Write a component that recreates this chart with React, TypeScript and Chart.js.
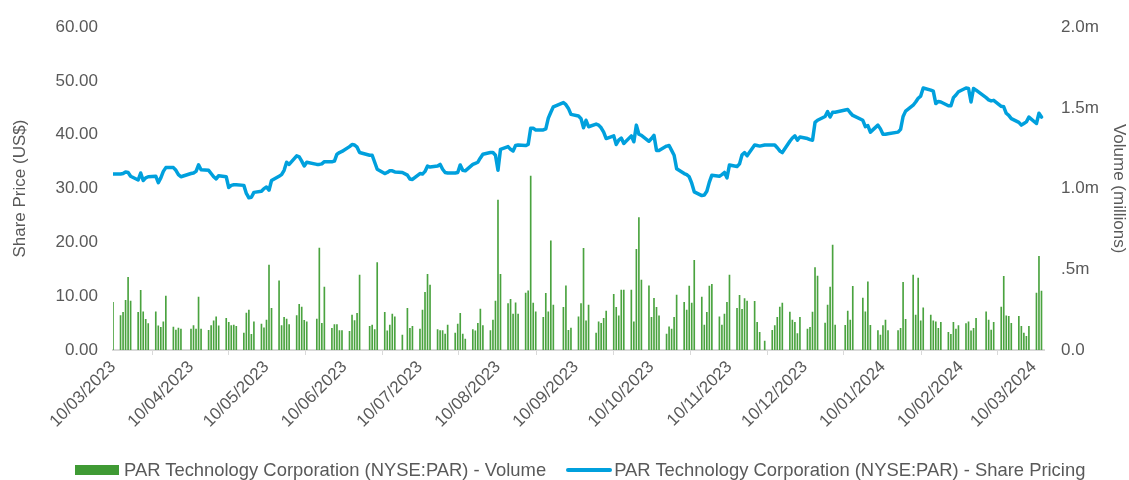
import React, { useEffect, useRef } from 'react';
import { Chart, registerables } from 'chart.js';

Chart.register(...registerables);

// ---- Categories (trading days) ----
const FIRST_DAY = '2023-03-10';
const LAST_DAY = '2024-03-13';
const MARKET_HOLIDAYS = [
  '2023-04-07', '2023-05-29', '2023-06-19', '2023-07-04', '2023-09-04',
  '2023-11-23', '2023-12-25', '2024-01-01', '2024-01-15', '2024-02-19',
];

// ---- Tick labels ----
const X_TICK_LABELS = [
  '10/03/2023', '10/04/2023', '10/05/2023', '10/06/2023', '10/07/2023', '10/08/2023', '10/09/2023',
  '10/10/2023', '10/11/2023', '10/12/2023', '10/01/2024', '10/02/2024', '10/03/2024',
];
const PRICE_TICKS = [0, 10, 20, 30, 40, 50, 60];
const VOLUME_TICKS = [0, 0.5, 1, 1.5, 2];
const VOLUME_TICK_LABELS = ['0.0', '.5m', '1.0m', '1.5m', '2.0m'];

// ---- Series: share price (US$) per trading day ----
const SHARE_PRICE = [
  32.7,
  32.7, 32.8, 33.1, 33.0, 32.3, 31.6, 32.9, 31.5, 32.0, 32.2, 32.3, 31.1, 32.0, 33.2, 33.9,
  33.9, 33.4, 32.6, 32.2, 32.8, 32.9, 33.2, 34.4, 33.5, 33.4, 32.8, 32.2, 31.8, 32.4, 32.2, 30.2, 30.6, 30.7, 30.7,
  30.6, 29.1, 28.3, 28.4, 29.3, 29.5, 30.0, 30.3, 29.7, 31.5, 32.3, 32.6, 33.4, 34.9, 34.5, 36.1, 35.9, 35.1, 34.2, 34.9,
  34.5, 34.5, 34.6, 35.0,
  35.0, 35.1, 36.4, 36.7, 36.9, 37.8, 38.2, 38.1, 37.7, 36.7, 36.2, 36.2, 34.9, 33.6, 32.8, 33.0, 33.3, 33.3, 33.1,
  33.0, 32.5, 31.8, 31.7, 32.8, 32.7, 33.2, 34.2, 34.0, 34.2, 34.5, 33.6, 33.0, 32.9, 32.9, 33.0, 34.4, 33.4, 33.3,
  34.5, 34.7, 34.9, 35.7, 36.4, 36.7, 36.7, 36.2, 33.4, 37.3, 37.8, 37.3, 37.0, 38.0, 38.1, 38.0, 38.2, 41.2, 41.2, 40.9,
  40.9, 41.1, 43.1, 44.2, 45.2,
  46.0, 45.6, 44.9, 43.8, 43.5, 43.0, 41.3, 42.7, 41.5, 42.0, 41.8, 41.3, 40.5, 39.3, 39.8, 38.2, 39.0, 39.4, 38.4,
  39.8, 38.7, 41.8, 40.1, 39.9, 38.8, 39.3, 39.9, 37.1, 37.1, 37.9, 38.0, 37.1, 36.2, 33.7, 32.8, 32.6, 32.2, 31.0, 29.4,
  28.7, 28.8, 29.5, 31.2, 32.5,
  32.3, 32.6, 33.0, 32.0, 34.4, 34.1, 34.6, 36.3, 36.7, 36.1, 38.1, 38.0, 37.9, 38.1, 38.1, 38.1, 37.6, 37.0, 36.7,
  38.8, 39.4, 39.8, 39.0, 39.6, 39.3, 39.1, 39.0, 42.3, 42.7, 43.4, 44.3, 43.3, 44.2, 44.2, 44.6, 44.7, 44.1, 43.6,
  42.7, 41.5, 41.7, 40.5, 41.8, 41.1, 40.1, 40.1, 40.2, 40.5, 41.0, 43.4, 44.4, 45.5, 46.1, 46.8, 47.2, 48.7,
  48.3, 48.1, 45.8, 46.2, 46.1,
  45.4, 45.4, 46.9, 47.4, 48.0, 48.7, 48.6, 46.1, 48.6, 48.3, 46.9, 46.5, 46.3, 46.4, 45.3, 45.2, 44.0, 43.6,
  43.0,
  42.3, 41.8, 42.1, 42.4, 43.3, 42.1, 44.0, 43.3,
];

// ---- Series: volume (millions of shares) per trading day ----
const VOLUME_M = [
  0.295,
  0.213, 0.233, 0.308, 0.45, 0.303, 0.233, 0.369, 0.237, 0.19, 0.163, 0.237, 0.149, 0.14, 0.175, 0.334,
  0.142, 0.124, 0.136, 0.13, 0.13, 0.151, 0.13, 0.328, 0.13, 0.122, 0.151, 0.18, 0.206, 0.149, 0.196, 0.171, 0.151, 0.155, 0.147,
  0.105, 0.229, 0.248, 0.097, 0.175, 0.161, 0.138, 0.186, 0.526, 0.258, 0.429, 0.151, 0.202, 0.192, 0.157, 0.213, 0.283, 0.266, 0.184, 0.175,
  0.192, 0.632, 0.165, 0.39,
  0.134, 0.157, 0.157, 0.12, 0.12, 0.116, 0.217, 0.182, 0.227, 0.464, 0.147, 0.155, 0.126, 0.541, 0.233, 0.118, 0.155, 0.223, 0.206,
  0.093, 0.258, 0.134, 0.147, 0.13, 0.248, 0.357, 0.469, 0.402, 0.126, 0.12, 0.12, 0.099, 0.155, 0.105, 0.161, 0.227, 0.099, 0.068,
  0.126, 0.118, 0.165, 0.254, 0.151, 0.12, 0.186, 0.303, 0.929, 0.469, 0.287, 0.314, 0.223, 0.293, 0.223, 0.353, 0.367, 1.077, 0.291, 0.237,
  0.202, 0.351, 0.237, 0.677, 0.279,
  0.264, 0.398, 0.122, 0.136, 0.206, 0.287, 0.63, 0.18, 0.279, 0.105, 0.175, 0.165, 0.196, 0.241, 0.345, 0.264, 0.211, 0.372, 0.372,
  0.372, 0.175, 0.623, 0.821, 0.433, 0.398, 0.202, 0.32, 0.264, 0.211, 0.099, 0.144, 0.13, 0.202, 0.341, 0.295, 0.248, 0.396, 0.291, 0.555,
  0.328, 0.155, 0.233, 0.396, 0.407,
  0.206, 0.155, 0.223, 0.295, 0.464, 0.258, 0.339, 0.252, 0.318, 0.303, 0.301, 0.171, 0.109, 0.056, 0.122, 0.151, 0.202, 0.266, 0.291,
  0.235, 0.186, 0.171, 0.101, 0.202, 0.13, 0.14, 0.235, 0.51, 0.458, 0.167, 0.279, 0.39, 0.65, 0.155, 0.153, 0.241, 0.186, 0.394,
  0.322, 0.237, 0.423, 0.153, 0.12, 0.093, 0.151, 0.186, 0.12, 0.12, 0.134, 0.419, 0.19, 0.464, 0.217, 0.446, 0.18, 0.262,
  0.217, 0.18, 0.175, 0.134, 0.171,
  0.109, 0.097, 0.171, 0.13, 0.151, 0.163, 0.175, 0.118, 0.134, 0.196, 0.237, 0.186, 0.124, 0.171, 0.266, 0.456, 0.211, 0.208,
  0.165,
  0.208, 0.147, 0.105, 0.085, 0.147, 0.353, 0.58, 0.365,
];

const SERIES_VOLUME = 'PAR Technology Corporation (NYSE:PAR) - Volume';
const SERIES_PRICE = 'PAR Technology Corporation (NYSE:PAR) - Share Pricing';

const GREEN = '#3f9a34';
const BLUE = '#00a0dd';
const TEXT = '#595959';
const FONT = "'Liberation Sans', Arial, sans-serif";

const DAY_MS = 86400000;
const isoToUtc = (iso: string) => {
  const [y, m, d] = iso.split('-').map(Number);
  return Date.UTC(y, m - 1, d);
};
const dmyToUtc = (s: string) => {
  const [d, m, y] = s.split('/').map(Number);
  return Date.UTC(y, m - 1, d);
};
const ORIGIN = isoToUtc(FIRST_DAY);

function tradingDayOffsets(): number[] {
  const out: number[] = [];
  const holidays = new Set(MARKET_HOLIDAYS);
  for (let t = ORIGIN; t <= isoToUtc(LAST_DAY); t += DAY_MS) {
    const dt = new Date(t);
    const wd = dt.getUTCDay();
    const iso = dt.toISOString().slice(0, 10);
    if (wd === 0 || wd === 6 || holidays.has(iso)) continue;
    out.push((t - ORIGIN) / DAY_MS);
  }
  return out;
}

const TICK_DAYS = X_TICK_LABELS.map((s) => (dmyToUtc(s) - ORIGIN) / DAY_MS);

export default function App() {
  const ref = useRef<HTMLCanvasElement | null>(null);

  useEffect(() => {
    const days = tradingDayOffsets();
    const n = Math.min(days.length, SHARE_PRICE.length, VOLUME_M.length);
    const priceData = [] as { x: number; y: number }[];
    const volData = [] as { x: number; y: number }[];
    for (let i = 0; i < n; i++) {
      priceData.push({ x: days[i], y: SHARE_PRICE[i] });
      volData.push({ x: days[i], y: VOLUME_M[i] });
    }
    const tickFont = { family: FONT, size: 17 };

    const chart = new Chart(ref.current as HTMLCanvasElement, {
      type: 'bar',
      data: {
        datasets: [
          {
            type: 'bar',
            label: SERIES_VOLUME,
            data: volData,
            yAxisID: 'yVol',
            backgroundColor: '#4aa33f',
            barThickness: 1,
            order: 2,
          } as any,
          {
            type: 'line',
            label: SERIES_PRICE,
            data: priceData,
            yAxisID: 'yPrice',
            borderColor: BLUE,
            borderWidth: 3.5,
            borderJoinStyle: 'round',
            borderCapStyle: 'round',
            pointRadius: 0,
            tension: 0,
            fill: false,
            order: 1,
          } as any,
        ],
      },
      options: {
        animation: false,
        responsive: true,
        maintainAspectRatio: false,
        layout: { padding: { top: 27, bottom: 30, left: 0, right: 0 } },
        plugins: { legend: { display: false }, tooltip: { enabled: false } },
        scales: {
          x: {
            type: 'linear',
            min: 0,
            max: 370,
            offset: false,
            afterBuildTicks: (s: any) => {
              s.ticks = TICK_DAYS.map((v) => ({ value: v }));
            },
            afterFit: (s: any) => {
              s.height = 100;
            },
            grid: {
              display: true,
              drawOnChartArea: false,
              drawTicks: true,
              tickLength: 5,
              color: '#d9d9d9',
            },
            border: { display: true, color: '#d9d9d9', width: 2 },
            ticks: {
              autoSkip: false,
              minRotation: 45,
              maxRotation: 45,
              padding: 2,
              color: TEXT,
              font: tickFont,
              callback: (v: any) => {
                const i = TICK_DAYS.indexOf(Number(v));
                return i >= 0 ? X_TICK_LABELS[i] : '';
              },
            },
          },
          yPrice: {
            type: 'linear',
            position: 'left',
            min: 0,
            max: 60,
            afterBuildTicks: (s: any) => {
              s.ticks = PRICE_TICKS.map((v) => ({ value: v }));
            },
            afterFit: (s: any) => {
              s.width = 113;
            },
            grid: { display: false, drawTicks: false },
            border: { display: false },
            ticks: {
              padding: 15,
              color: TEXT,
              font: tickFont,
              callback: (v: any) => Number(v).toFixed(2),
            },
            title: {
              display: true,
              text: 'Share Price (US$)',
              color: TEXT,
              font: tickFont,
              padding: { top: 10, bottom: 0 },
            },
          },
          yVol: {
            type: 'linear',
            position: 'right',
            min: 0,
            max: 2,
            afterBuildTicks: (s: any) => {
              s.ticks = VOLUME_TICKS.map((v) => ({ value: v }));
            },
            afterFit: (s: any) => {
              s.width = 85;
            },
            grid: { display: false, drawTicks: false },
            border: { display: false },
            ticks: {
              padding: 17,
              color: TEXT,
              font: tickFont,
              callback: (v: any) => {
                const i = VOLUME_TICKS.indexOf(Number(v));
                return i >= 0 ? VOLUME_TICK_LABELS[i] : '';
              },
            },
            title: {
              display: true,
              text: 'Volume (millions)',
              color: TEXT,
              font: tickFont,
              padding: { top: 0, bottom: 0 },
            },
          },
        },
      } as any,
    });
    return () => chart.destroy();
  }, []);

  return (
    <div style={{ position: 'fixed', left: 0, top: 0, width: 1129, height: 480, background: '#fff' }}>
      <canvas ref={ref} />
      <div
        style={{
          position: 'absolute',
          left: 75,
          top: 459,
          height: 22,
          display: 'flex',
          alignItems: 'center',
          fontFamily: FONT,
          fontSize: 18.4,
          color: TEXT,
          whiteSpace: 'nowrap',
        }}
      >
        <span style={{ display: 'inline-block', width: 44, height: 10, background: GREEN, marginRight: 5 }} />
        <span>{SERIES_VOLUME}</span>
        <span
          style={{
            display: 'inline-block',
            width: 46,
            height: 4,
            borderRadius: 2,
            background: BLUE,
            marginLeft: 20,
            marginRight: 2,
          }}
        />
        <span>{SERIES_PRICE}</span>
      </div>
    </div>
  );
}
